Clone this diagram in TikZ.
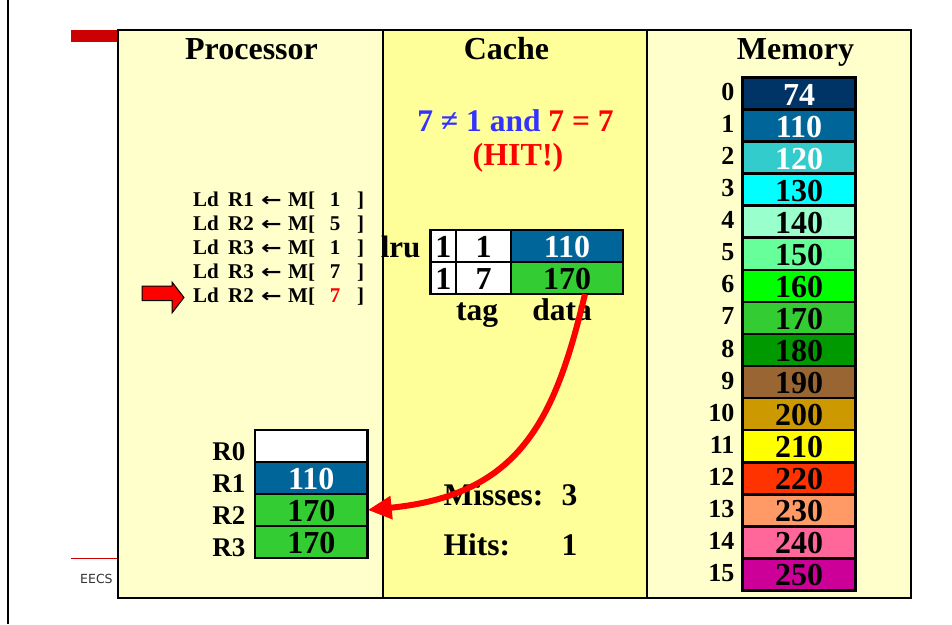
\documentclass[tikz,border=0pt]{standalone}
\usepackage{graphicx}
\usepackage{fontspec}
\setmainfont{Liberation Serif}
\newfontfamily\footfont{DejaVu Sans}
\usetikzlibrary{arrows.meta}

\definecolor{paleyellow}{HTML}{FFFFCC}
\definecolor{cacheyellow}{HTML}{FFFF99}
\definecolor{barred}{HTML}{CC0000}
\definecolor{hitblue}{HTML}{3333FF}
\definecolor{hitred}{HTML}{FF0000}
\definecolor{regblue}{HTML}{006699}
\definecolor{reggreen}{HTML}{33CC33}

\begin{document}
\begin{tikzpicture}[x=1pt,y=-1pt,
  panel/.style={draw=black, line width=2.7pt, inner sep=0pt, outer sep=0pt},
  title/.style={anchor=base, font=\fontsize{32}{34}\selectfont\bfseries},
  big/.style={font=\fontsize{31.5}{33}\selectfont\bfseries},
  cellbox/.style={draw=black, line width=2.6pt, minimum height=32pt,
    inner sep=0pt, outer sep=0pt, text height=23pt, text depth=0pt,
    font=\fontsize{32}{34}\selectfont\bfseries},
  idx/.style={anchor=base east, font=\fontsize{26}{28}\selectfont\bfseries},
  instr/.style={anchor=base west, inner sep=1pt, font=\fontsize{21}{23}\selectfont\bfseries},
  reglabel/.style={anchor=base east, font=\fontsize{27}{29}\selectfont\bfseries}]

\useasboundingbox (0,0) rectangle (952,624);
\fill[white] (0,0) rectangle (952,624);

% slide border and decorations
\draw[line width=2pt] (8,0) -- (8,624);
\fill[barred] (71,30) rectangle (118,42);
\draw[barred, line width=1pt] (71,558) -- (118,558);
\node[anchor=base west, inner sep=0pt, font=\footfont\fontsize{12.5}{14}\selectfont, text=black!80] (eecs) at (80,583.5) {EECS};

% three panels
\node[panel, fill=paleyellow, minimum width=265pt, minimum height=568pt] (proc) at (250.5,314) {};
\node[panel, fill=cacheyellow, minimum width=264pt, minimum height=568pt] (cache) at (515,314) {};
\node[panel, fill=paleyellow, minimum width=264pt, minimum height=568pt] (mem) at (779,314) {};

\node[title] (tproc) at (251.5,59) {Processor};
\node[title] (tcache) at (506.5,59) {Cache};
\node[title] (tmem) at (795.5,59) {Memory};

% hit condition
\node[anchor=base, font=\fontsize{31.5}{33}\selectfont\bfseries] (cond) at (515.5,131.5)
  {\textcolor{hitblue}{7 ≠ 1 and} \textcolor{hitred}{7 = 7}};
\node[anchor=base, text=hitred, font=\fontsize{32}{34}\selectfont\bfseries] (hit) at (518,165) {(HIT!)};

% instruction list
\foreach \r/\a/\c [count=\k from 0] in {R1/1/black, R2/5/black, R3/1/black, R3/7/black, R2/7/hitred} {
  \pgfmathsetmacro{\yy}{206+24*\k}
  \node[instr] (ld\k) at (192,\yy) {Ld};
  \node[instr] (rg\k) at (227,\yy) {\r};
  \node[instr, font=\footfont\bfseries\fontsize{19}{21}\selectfont] (ar\k) at (260,\yy) {\scalebox{1.3}[1]{←}};
  \node[instr] (mm\k) at (287,\yy) {M[};
  \node[instr, anchor=base, text=\c] (ad\k) at (335,\yy) {\a};
  \node[instr] (br\k) at (356,\yy) {]};
}
% current instruction pointer
\draw[fill=red, draw=black, line width=1pt]
  (142,286) -- (172,286) -- (172,282) -- (184,297.5) -- (172,313) -- (172,300.5) -- (142,300.5) -- cycle;

% cache lines
\node[reglabel, font=\fontsize{31}{33}\selectfont\bfseries] (lru) at (424,257) {lru};
\node[cellbox, fill=white, minimum width=25.3pt] (c1lru) at (443.35,246) {1};
\node[cellbox, fill=white, minimum width=55pt] (c1tag) at (483.5,246) {1};
\node[cellbox, fill=regblue, text=white, minimum width=112pt] (c1data) at (567,246) {110};
\node[cellbox, fill=white, minimum width=25.3pt] (c2lru) at (443.35,278) {1};
\node[cellbox, fill=white, minimum width=55pt] (c2tag) at (483.5,278) {7};
\node[cellbox, fill=reggreen, minimum width=112pt] (c2data) at (567,278) {170};
\node[big, anchor=base, text height=18pt] (tag) at (477,320) {tag};
\node[big, anchor=base, text height=18pt] (data) at (562,320) {data};

% statistics
\node[big, anchor=base west] (misses) at (440,505) {Misses:};
\node[big, anchor=base east] (nmiss) at (581,505) {3};
\node[big, anchor=base west] (hits) at (440,555) {Hits:};
\node[big, anchor=base east] (nhit) at (581,555) {1};

% register file
\foreach \lab/\v/\c/\t [count=\k from 0] in {R0//white/black, R1/110/regblue/white, R2/170/reggreen/black, R3/170/reggreen/black} {
  \node[cellbox, fill=\c, text=\t, minimum width=112.7pt] (r\k) at (311.35,{446+32*\k}) {\v};
  \node[reglabel] (rl\k) at (249,{460.7+32*\k}) {\lab};
}

% memory
\foreach \v/\c/\t [count=\i from 0] in {74/003366/white, 110/006699/white, 120/33CCCC/white,
  130/00FFFF/black, 140/99FFCC/black, 150/66FF99/black, 160/00FF00/black, 170/33CC33/black,
  180/009900/black, 190/996633/black, 200/CC9900/black, 210/FFFF00/black, 220/FF3300/black,
  230/FF9966/black, 240/FF6699/black, 250/CC0099/black} {
  \definecolor{cellc}{HTML}{\c}
  \node[cellbox, fill=cellc, text=\t, minimum width=113pt] (m\i) at (799,{93.53+32.06*\i}) {\v};
  \node[idx] (mi\i) at (738,{100.56+32.06*\i}) {\i};
}

% data moved from the cache into R2
\draw[hitred, line width=6pt, -{Triangle[length=24pt,width=22pt]}]
  ([xshift=18pt]c2data.south) .. controls (555,420) and (520,495) .. (r2.east);
\end{tikzpicture}
\end{document}
